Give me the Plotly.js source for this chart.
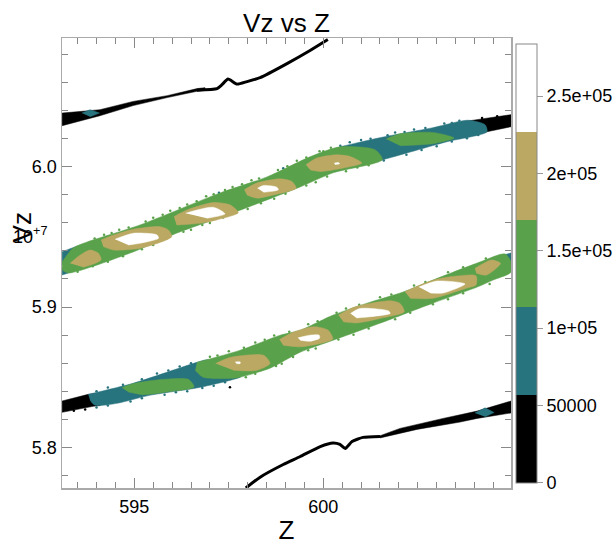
<!DOCTYPE html>
<html><head><meta charset="utf-8">
<script src="https://cdn.plot.ly/plotly-3.0.1.min.js"></script>
<style>html,body{margin:0;padding:0;background:#fff}</style></head>
<body><div id="chart" style="width:616px;height:545px"></div>
<script>
// Data: [Z, Vz (in units of 1e7)] outlines of each density contour region
const upperBlack=[[603.7,6.0317],[603.88,6.0326],[604.97,6.0369],[604.97,6.0283],[604.33,6.0247],[603.9,6.0218]];
const upperTeal=[[600.44,6.0140],[601.50,6.0205],[602.90,6.0276],[603.83,6.0329],[604.28,6.0297],[604.33,6.0247],[603.27,6.0176],[601.58,6.0048],[601.0,6.0007]];
const upperTealCorners=[[[593.09,5.9394],[593.5,5.9435],[593.5,5.9400],[593.09,5.9300]],[[593.09,5.9228],[593.4,5.9255],[593.3,5.9265],[593.09,5.9280]]];
const upperGreen=[[593.09,5.9320],[593.38,5.9420],[593.75,5.9463],[595.15,5.9584],[597.27,5.9812],[598.51,5.9926],[599.65,6.0069],[600.44,6.0140],[601.37,6.0119],[601.56,6.0048],[600.26,5.9955],[599.39,5.9855],[597.61,5.9670],[596.13,5.9527],[594.97,5.9392],[593.25,5.9242],[593.09,5.9263]];
const upperGreenIsland=[[601.66,6.0195],[602.03,6.0233],[602.90,6.0242],[603.46,6.0202],[602.90,6.0162],[602.03,6.0148]];
const upperTan=[
 [[593.30,5.9311],[593.57,5.9370],[593.83,5.9406],[594.05,5.9383],[594.12,5.9335],[593.65,5.9283]],
 [[594.12,5.9477],[594.45,5.9513],[594.98,5.9554],[595.68,5.9572],[595.90,5.9549],[595.99,5.9501],[595.15,5.9418],[594.45,5.9406],[594.18,5.9430]],
 [[596.05,5.9643],[596.39,5.9691],[597.09,5.9743],[597.53,5.9727],[597.75,5.9672],[597.18,5.9620],[596.74,5.9596],[596.12,5.9584]],
 [[597.91,5.9834],[598.24,5.9882],[598.86,5.9912],[599.17,5.9893],[599.28,5.9846],[598.68,5.9798],[598.24,5.9775],[597.98,5.9798]],
 [[599.54,6.0012],[599.83,6.0060],[600.36,6.0083],[600.71,6.0071],[601.02,6.0024],[600.53,5.9989],[599.92,5.9964],[599.65,5.9976]]];
const upperWhite=[
 [[594.49,5.9482],[594.98,5.9525],[595.60,5.9513],[595.64,5.9490],[595.15,5.9454],[594.84,5.9442]],
 [[596.36,5.9668],[597.09,5.9710],[597.40,5.9663],[596.92,5.9632]],
 [[598.26,5.9846],[598.42,5.9865],[598.77,5.9853],[598.81,5.9834],[598.42,5.9817]],
 [[600.29,6.0024],[600.40,6.0028],[600.43,6.0019],[600.31,6.0014]]];
const lowerBlack=[[593.09,5.8332],[593.78,5.8379],[594.0,5.8385],[594.1,5.8300],[593.91,5.8294],[593.09,5.8251]];
const lowerTeal=[[593.78,5.8379],[594.97,5.8458],[596.66,5.8607],[596.95,5.8625],[597.4,5.8560],[597.85,5.8515],[597.80,5.8501],[596.74,5.8429],[595.40,5.8372],[594.54,5.8315],[593.96,5.8301],[593.83,5.8337]];
const lowerTealCorner=[[604.7,5.9365],[604.97,5.9385],[604.97,5.9300],[604.8,5.9340]];
const lowerGreen=[[596.66,5.8607],[597.80,5.8693],[598.86,5.8800],[599.39,5.8835],[600.26,5.8943],[601.16,5.9028],[602.11,5.9107],[602.90,5.9192],[604.07,5.9313],[604.81,5.9378],[604.97,5.9320],[604.97,5.9249],[604.49,5.9192],[604.07,5.9142],[602.90,5.9028],[601.50,5.8885],[600.26,5.8764],[599.39,5.8679],[598.59,5.8565],[597.80,5.8501],[597.61,5.8493],[596.82,5.8501],[596.61,5.8550]];
const lowerGreenIsland=[[594.67,5.8427],[594.98,5.8456],[595.77,5.8486],[596.43,5.8486],[596.58,5.8431],[595.86,5.8396],[595.24,5.8377],[594.84,5.8396]];
const lowerTan=[
 [[597.15,5.8598],[597.53,5.8641],[598.42,5.8657],[598.59,5.8598],[598.24,5.8550],[597.62,5.8550]],
 [[598.84,5.8769],[599.20,5.8821],[599.65,5.8857],[599.84,5.8859],[600.13,5.8835],[600.25,5.8773],[599.92,5.8741],[599.39,5.8717],[598.94,5.8729]],
 [[600.40,5.8943],[600.84,5.9002],[601.77,5.9045],[602.03,5.9026],[602.14,5.8966],[601.50,5.8919],[600.88,5.8887],[600.53,5.8895]],
 [[602.16,5.9109],[602.56,5.9157],[603.01,5.9199],[603.54,5.9221],[604.04,5.9223],[604.04,5.9157],[603.80,5.9135],[602.90,5.9062],[602.30,5.9062]],
 [[604.01,5.9275],[604.45,5.9335],[604.69,5.9311],[604.32,5.9228],[604.05,5.9240]]];
const lowerWhite=[
 [[597.67,5.8610],[597.80,5.8610],[597.80,5.8598],[597.70,5.8598]],
 [[599.33,5.8781],[599.65,5.8800],[599.89,5.8800],[599.90,5.8779],[599.65,5.8757],[599.39,5.8764]],
 [[600.72,5.8955],[600.97,5.8990],[601.72,5.8973],[601.77,5.8955],[601.24,5.8931],[600.88,5.8923]],
 [[602.53,5.9142],[603.01,5.9185],[603.75,5.9164],[603.17,5.9100],[602.83,5.9100]]];
const topWedge=[[593.09,6.0380],[594.09,6.0404],[594.97,6.0463],[595.87,6.0504],[596.66,6.0554],[596.87,6.0561],[596.87,6.0543],[596.66,6.0535],[595.87,6.0490],[594.97,6.0433],[594.09,6.0361],[593.09,6.0290]];
const topLine=[[596.66,6.0543],[597.19,6.0554],[597.32,6.0582],[597.48,6.0622],[597.72,6.0586],[597.98,6.0604],[598.33,6.0632],[599.04,6.0732],[599.65,6.0825],[600.12,6.0903]];
const topDiamond=[[593.61,6.0380],[593.83,6.0404],[594.08,6.0380],[593.83,6.0354]];
const bottomLine=[[597.95,5.7713],[598.33,5.7790],[598.94,5.7880],[599.39,5.7937],[599.92,5.8008],[600.26,5.8033],[600.44,5.8023],[600.58,5.7994],[600.76,5.8044],[601.05,5.8073],[601.50,5.8080]];
const bottomWedge=[[601.45,5.8080],[602.03,5.8137],[603.17,5.8208],[604.07,5.8260],[604.97,5.8332],[604.97,5.8247],[604.07,5.8208],[603.62,5.8182],[602.48,5.8130],[601.50,5.8069]];
const bottomDiamond=[[604.01,5.8247],[604.28,5.8283],[604.52,5.8250],[604.28,5.8219]];
// Scattered edge particles: [Z, Vz, density]
const edgeParticles=[
 [594.2,5.9515,1.4e5],[594.6,5.9550,1.4e5],[595.5,5.9635,1.4e5],[595.95,5.9685,1.4e5],[596.4,5.9730,1.4e5],[596.9,5.9788,1.4e5],[597.6,5.9855,1.4e5],[598.1,5.9903,1.4e5],[598.8,5.9975,1.4e5],[599.3,6.0040,1.4e5],[599.9,6.0108,1.4e5],[600.2,6.0133,1.4e5],
 [600.7,6.0172,8.5e4],[601.0,6.0188,8.5e4],[601.9,6.0242,8.5e4],[602.4,6.0263,8.5e4],[603.2,6.0305,8.5e4],[603.6,6.0325,8.5e4],
 [593.5,5.9252,1.4e5],[594.3,5.9322,1.4e5],[595.5,5.9441,1.4e5],[596.5,5.9550,1.4e5],[597.0,5.9598,1.4e5],[598.0,5.9698,1.4e5],[598.7,5.9770,1.4e5],[599.8,5.9888,1.4e5],[600.6,5.9966,1.4e5],[601.2,6.0008,1.4e5],
 [602.2,6.0083,8.5e4],[603.0,6.0144,8.5e4],[603.8,6.0200,8.5e4],
 [594.3,5.8428,8.5e4],[595.6,5.8527,8.5e4],[596.2,5.8578,8.5e4],[597.0,5.8647,1.4e5],[597.5,5.8685,1.4e5],[598.2,5.8748,1.4e5],[598.7,5.8798,1.4e5],[599.6,5.8877,1.4e5],[600.6,5.8990,1.4e5],[601.5,5.9070,1.4e5],[602.4,5.9153,1.4e5],[603.3,5.9247,1.4e5],[604.3,5.9345,1.4e5],
 [594.0,5.8285,8.5e4],[594.9,5.8328,8.5e4],[595.8,5.8376,8.5e4],[596.4,5.8402,8.5e4],[597.1,5.8441,8.5e4],[597.95,5.8500,1.4e5],[598.9,5.8596,1.4e5],[599.8,5.8706,1.4e5],[600.8,5.8804,1.4e5],[601.9,5.8914,1.4e5],[603.3,5.9055,1.4e5],[604.4,5.9165,1.4e5],
 [597.53,5.8430,2e4],[593.4,5.8262,2e4],[593.7,5.8272,2e4],[604.2,6.0345,2e4],[604.6,6.0358,2e4],
 [593.95,5.9488,1.4e5],[594.4,5.9527,1.4e5],[594.85,5.9566,1.4e5],[595.3,5.9608,1.4e5],[595.75,5.9656,1.4e5],[596.2,5.9705,1.4e5],[596.65,5.9753,1.4e5],[597.1,5.9802,1.4e5],[597.4,5.9832,1.4e5],[597.85,5.9873,1.4e5],[598.3,5.9915,1.4e5],[599.05,6.0002,1.4e5],[599.55,6.0064,1.4e5],[600.0,6.0108,1.4e5],
 [600.45,6.0148,8.5e4],[601.25,6.0198,8.5e4],[601.7,6.0223,8.5e4],[602.15,6.0246,8.5e4],[602.7,6.0274,8.5e4],[603.4,6.0309,8.5e4],[598.94,5.9988,8.5e4],[597.24,5.9814,8.5e4],
 [593.9,5.9291,1.4e5],[594.7,5.9361,1.4e5],[595.2,5.9411,1.4e5],[595.85,5.9487,1.4e5],[596.3,5.9535,1.4e5],[596.8,5.9583,1.4e5],[597.35,5.9637,1.4e5],[597.7,5.9671,1.4e5],[598.35,5.9739,1.4e5],[599.0,5.9806,1.4e5],[599.55,5.9865,1.4e5],[600.1,5.9929,1.4e5],[600.9,5.9992,1.4e5],
 [601.6,6.0042,8.5e4],[602.6,6.0117,8.5e4],[603.4,6.0177,8.5e4],[604.1,6.0224,8.5e4],
 [594.0,5.8402,8.5e4],[594.7,5.8448,8.5e4],[595.2,5.8486,8.5e4],[595.9,5.8548,8.5e4],[596.5,5.8601,8.5e4],
 [597.2,5.8656,1.4e5],[597.9,5.8711,1.4e5],[598.45,5.8767,1.4e5],[599.1,5.8824,1.4e5],[599.85,5.8900,1.4e5],[600.35,5.8959,1.4e5],[600.95,5.9016,1.4e5],[601.8,5.9089,1.4e5],[602.7,5.9179,1.4e5],[603.7,5.9283,1.4e5],
 [594.3,5.8299,8.5e4],[595.2,5.8351,8.5e4],[596.1,5.8394,8.5e4],[596.8,5.8425,8.5e4],[597.4,5.8466,8.5e4],
 [598.2,5.8525,1.4e5],[598.75,5.8580,1.4e5],[599.2,5.8644,1.4e5],[599.6,5.8692,1.4e5],[600.4,5.8770,1.4e5],[601.2,5.8848,1.4e5],[602.3,5.8959,1.4e5],[602.9,5.9020,1.4e5],[603.7,5.9098,1.4e5]];
const colorTicks=[0,50000,100000,150000,200000,250000];
const colorTickLabels=['0','50000','1e+05','1.5e+05','2e+05','2.5e+05'];
const colorMax=283700;
const bandColors=['#000000','#27737E','#5AA14B','#BBA963','#FFFFFF'];
const zRange=[593.087,604.966], vzRange=[5.7713,6.0914];

const stops=[];
bandColors.forEach((c,i)=>{stops.push([i/5,c]);stops.push([(i+1)/5,c]);});
function fillTrace(points,color,curved){
  return {type:'scatter',mode:'lines',x:points.map(p=>p[0]),y:points.map(p=>p[1]),fill:'toself',fillcolor:color,
    line:{color:color,width:0.5,shape:curved===false?'linear':'spline',smoothing:0.7},hoverinfo:'skip',showlegend:false};
}
function lineTrace(points,color,w){
  return {type:'scatter',mode:'lines',x:points.map(p=>p[0]),y:points.map(p=>p[1]),
    line:{color:color,width:w,shape:'spline',smoothing:0.5},hoverinfo:'skip',showlegend:false};
}
const [K,T,G,A,W]=bandColors;
const traces=[
 {type:'scatter',mode:'markers',x:edgeParticles.map(p=>p[0]),y:edgeParticles.map(p=>p[1]),showlegend:false,hoverinfo:'skip',
  marker:{size:2.5,line:{width:0},color:edgeParticles.map(p=>p[2]),cmin:0,cmax:colorMax,colorscale:stops,showscale:true,
   colorbar:{x:1.0111,xanchor:'left',xref:'paper',y:0.4992,yanchor:'middle',yref:'paper',lenmode:'pixels',len:439,thicknessmode:'pixels',thickness:21,
    xpad:0,ypad:0,outlinecolor:'#888',outlinewidth:1,ticks:'outside',ticklen:6,tickcolor:'#999',tickvals:colorTicks,ticktext:colorTickLabels,
    tickfont:{family:'Liberation Sans',size:18,color:'#000'}}}},
 fillTrace(upperBlack,K,false),fillTrace(upperTeal,T),...upperTealCorners.map(p=>fillTrace(p,T,false)),fillTrace(upperGreen,G),fillTrace(upperGreenIsland,G),
 ...upperTan.map(p=>fillTrace(p,A)),...upperWhite.map(p=>fillTrace(p,W)),
 fillTrace(lowerBlack,K,false),fillTrace(lowerTeal,T),fillTrace(lowerTealCorner,T,false),fillTrace(lowerGreen,G),fillTrace(lowerGreenIsland,G),
 ...lowerTan.map(p=>fillTrace(p,A)),...lowerWhite.map(p=>fillTrace(p,W)),
 fillTrace(topWedge,K,false),lineTrace(topLine,K,3),fillTrace(topDiamond,T,false),
 fillTrace(bottomWedge,K,false),lineTrace(bottomLine,K,3),fillTrace(bottomDiamond,T,false)
];
const f=(s)=>({family:'Liberation Sans',size:s,color:'#000'});
const layout={
 width:616,height:545,paper_bgcolor:'#fff',plot_bgcolor:'#fff',showlegend:false,
 margin:{l:62,r:105,t:38,b:57,autoexpand:false},
 title:{text:'Vz vs Z',font:f(26),x:0.465,xanchor:'center',xref:'container',y:0.958,yanchor:'middle',yref:'container'},
 xaxis:{range:zRange,tickvals:[595,600],ticktext:['595','600'],ticks:'inside',ticklen:10,tickcolor:'#888',tickwidth:1,
  minor:{dtick:0.5,ticks:'inside',ticklen:6,tickcolor:'#888',tickwidth:1},ticklabelstandoff:2,
  showline:true,linecolor:'#aaa',linewidth:1.5,mirror:'allticks',showgrid:false,zeroline:false,tickfont:f(18),
  title:{text:'Z',font:f(26),standoff:19}},
 yaxis:{range:vzRange,tickvals:[5.8,5.9,6.0],ticktext:['5.8','5.9','6.0'],ticks:'inside',ticklen:10,tickcolor:'#888',tickwidth:1,
  minor:{dtick:0.02,ticks:'inside',ticklen:6,tickcolor:'#888',tickwidth:1},
  showline:true,linecolor:'#aaa',linewidth:1.5,mirror:'allticks',showgrid:false,zeroline:false,tickfont:f(18)},
 annotations:[
  {text:'Vz',xref:'paper',yref:'paper',x:-0.0902,y:0.578,xanchor:'center',yanchor:'middle',textangle:-90,showarrow:false,font:f(26)},
  {text:'10<sup>+7</sup>',xref:'paper',yref:'paper',x:-0.029,y:0.56,xanchor:'right',yanchor:'middle',showarrow:false,font:f(18)}]
};
Plotly.newPlot('chart',traces,layout,{staticPlot:true,displayModeBar:false});
</script></body></html>
